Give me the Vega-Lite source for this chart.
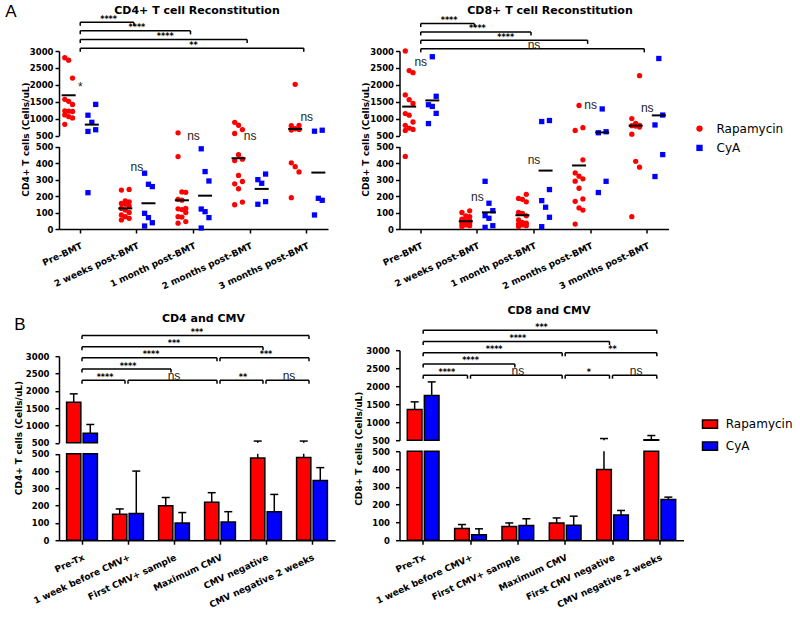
{
"$schema": "https://vega.github.io/schema/vega-lite/v6.json",
"background": "white",
"padding": {"left": 5, "top": 3, "right": 2, "bottom": 2},
"datasets": {
"aLp": [
{"t":"Pre-BMT","g":"Rapamycin","v":2800},{"t":"Pre-BMT","g":"Rapamycin","v":2730},{"t":"Pre-BMT","g":"Rapamycin","v":2200},{"t":"Pre-BMT","g":"Rapamycin","v":1570},{"t":"Pre-BMT","g":"Rapamycin","v":1510},{"t":"Pre-BMT","g":"Rapamycin","v":1420},{"t":"Pre-BMT","g":"Rapamycin","v":1230},{"t":"Pre-BMT","g":"Rapamycin","v":1220},{"t":"Pre-BMT","g":"Rapamycin","v":1210},{"t":"Pre-BMT","g":"Rapamycin","v":1110},{"t":"Pre-BMT","g":"Rapamycin","v":1060},{"t":"Pre-BMT","g":"Rapamycin","v":1020},{"t":"Pre-BMT","g":"Rapamycin","v":830},
{"t":"Pre-BMT","g":"CyA","v":1420},{"t":"Pre-BMT","g":"CyA","v":1100},{"t":"Pre-BMT","g":"CyA","v":890},{"t":"Pre-BMT","g":"CyA","v":670},{"t":"Pre-BMT","g":"CyA","v":620},{"t":"Pre-BMT","g":"CyA","v":220},
{"t":"2 weeks post-BMT","g":"Rapamycin","v":240},{"t":"2 weeks post-BMT","g":"Rapamycin","v":236},{"t":"2 weeks post-BMT","g":"Rapamycin","v":170},{"t":"2 weeks post-BMT","g":"Rapamycin","v":165},{"t":"2 weeks post-BMT","g":"Rapamycin","v":155},{"t":"2 weeks post-BMT","g":"Rapamycin","v":150},{"t":"2 weeks post-BMT","g":"Rapamycin","v":140},{"t":"2 weeks post-BMT","g":"Rapamycin","v":125},{"t":"2 weeks post-BMT","g":"Rapamycin","v":115},{"t":"2 weeks post-BMT","g":"Rapamycin","v":100},{"t":"2 weeks post-BMT","g":"Rapamycin","v":85},{"t":"2 weeks post-BMT","g":"Rapamycin","v":75},{"t":"2 weeks post-BMT","g":"Rapamycin","v":65},{"t":"2 weeks post-BMT","g":"Rapamycin","v":55},
{"t":"2 weeks post-BMT","g":"CyA","v":338},{"t":"2 weeks post-BMT","g":"CyA","v":271},{"t":"2 weeks post-BMT","g":"CyA","v":257},{"t":"2 weeks post-BMT","g":"CyA","v":95},{"t":"2 weeks post-BMT","g":"CyA","v":69},{"t":"2 weeks post-BMT","g":"CyA","v":38},{"t":"2 weeks post-BMT","g":"CyA","v":18},
{"t":"1 month post-BMT","g":"Rapamycin","v":578},{"t":"1 month post-BMT","g":"Rapamycin","v":439},{"t":"1 month post-BMT","g":"Rapamycin","v":225},{"t":"1 month post-BMT","g":"Rapamycin","v":222},{"t":"1 month post-BMT","g":"Rapamycin","v":180},{"t":"1 month post-BMT","g":"Rapamycin","v":175},{"t":"1 month post-BMT","g":"Rapamycin","v":125},{"t":"1 month post-BMT","g":"Rapamycin","v":122},{"t":"1 month post-BMT","g":"Rapamycin","v":118},{"t":"1 month post-BMT","g":"Rapamycin","v":100},{"t":"1 month post-BMT","g":"Rapamycin","v":75},{"t":"1 month post-BMT","g":"Rapamycin","v":72},{"t":"1 month post-BMT","g":"Rapamycin","v":45},{"t":"1 month post-BMT","g":"Rapamycin","v":35},
{"t":"1 month post-BMT","g":"CyA","v":486},{"t":"1 month post-BMT","g":"CyA","v":348},{"t":"1 month post-BMT","g":"CyA","v":291},{"t":"1 month post-BMT","g":"CyA","v":121},{"t":"1 month post-BMT","g":"CyA","v":105},{"t":"1 month post-BMT","g":"CyA","v":69},{"t":"1 month post-BMT","g":"CyA","v":6},
{"t":"2 months post-BMT","g":"Rapamycin","v":891},{"t":"2 months post-BMT","g":"Rapamycin","v":803},{"t":"2 months post-BMT","g":"Rapamycin","v":676},{"t":"2 months post-BMT","g":"Rapamycin","v":559},{"t":"2 months post-BMT","g":"Rapamycin","v":450},{"t":"2 months post-BMT","g":"Rapamycin","v":423},{"t":"2 months post-BMT","g":"Rapamycin","v":415},{"t":"2 months post-BMT","g":"Rapamycin","v":325},{"t":"2 months post-BMT","g":"Rapamycin","v":288},{"t":"2 months post-BMT","g":"Rapamycin","v":274},{"t":"2 months post-BMT","g":"Rapamycin","v":244},{"t":"2 months post-BMT","g":"Rapamycin","v":163},{"t":"2 months post-BMT","g":"Rapamycin","v":147},
{"t":"2 months post-BMT","g":"CyA","v":333},{"t":"2 months post-BMT","g":"CyA","v":299},{"t":"2 months post-BMT","g":"CyA","v":277},{"t":"2 months post-BMT","g":"CyA","v":166},{"t":"2 months post-BMT","g":"CyA","v":150},
{"t":"3 months post-BMT","g":"Rapamycin","v":2014},{"t":"3 months post-BMT","g":"Rapamycin","v":800},{"t":"3 months post-BMT","g":"Rapamycin","v":790},{"t":"3 months post-BMT","g":"Rapamycin","v":700},{"t":"3 months post-BMT","g":"Rapamycin","v":680},{"t":"3 months post-BMT","g":"Rapamycin","v":660},{"t":"3 months post-BMT","g":"Rapamycin","v":401},{"t":"3 months post-BMT","g":"Rapamycin","v":378},{"t":"3 months post-BMT","g":"Rapamycin","v":346},{"t":"3 months post-BMT","g":"Rapamycin","v":190},
{"t":"3 months post-BMT","g":"CyA","v":656},{"t":"3 months post-BMT","g":"CyA","v":627},{"t":"3 months post-BMT","g":"CyA","v":186},{"t":"3 months post-BMT","g":"CyA","v":174},{"t":"3 months post-BMT","g":"CyA","v":85}
],
"aLm": [
{"t":"Pre-BMT","g":"Rapamycin","v":1690},{"t":"Pre-BMT","g":"CyA","v":822},
{"t":"2 weeks post-BMT","g":"Rapamycin","v":125},{"t":"2 weeks post-BMT","g":"CyA","v":156},
{"t":"1 month post-BMT","g":"Rapamycin","v":174},{"t":"1 month post-BMT","g":"CyA","v":202},
{"t":"2 months post-BMT","g":"Rapamycin","v":429},{"t":"2 months post-BMT","g":"CyA","v":243},
{"t":"3 months post-BMT","g":"Rapamycin","v":695},{"t":"3 months post-BMT","g":"CyA","v":342}
],
"aLl": [
{"t":"Pre-BMT","v":1940,"lab":"*"},{"t":"2 weeks post-BMT","v":373,"lab":"ns"},{"t":"1 month post-BMT","v":500,"lab":"ns"},{"t":"2 months post-BMT","v":500,"lab":"ns"},{"t":"3 months post-BMT","v":1060,"lab":"ns"}
],
"aLb": [
{"a":0,"b":1,"L":1,"lab":"****"},{"a":0,"b":2,"L":2,"lab":"****"},{"a":0,"b":3,"L":3,"lab":"****"},{"a":0,"b":4,"L":4,"lab":"**"}
],
"aRp": [
{"t":"Pre-BMT","g":"Rapamycin","v":3000},{"t":"Pre-BMT","g":"Rapamycin","v":2420},{"t":"Pre-BMT","g":"Rapamycin","v":2360},{"t":"Pre-BMT","g":"Rapamycin","v":1700},{"t":"Pre-BMT","g":"Rapamycin","v":1560},{"t":"Pre-BMT","g":"Rapamycin","v":1450},{"t":"Pre-BMT","g":"Rapamycin","v":1150},{"t":"Pre-BMT","g":"Rapamycin","v":1100},{"t":"Pre-BMT","g":"Rapamycin","v":900},{"t":"Pre-BMT","g":"Rapamycin","v":800},{"t":"Pre-BMT","g":"Rapamycin","v":720},{"t":"Pre-BMT","g":"Rapamycin","v":680},{"t":"Pre-BMT","g":"Rapamycin","v":650},{"t":"Pre-BMT","g":"Rapamycin","v":440},
{"t":"Pre-BMT","g":"CyA","v":2830},{"t":"Pre-BMT","g":"CyA","v":1660},{"t":"Pre-BMT","g":"CyA","v":1410},{"t":"Pre-BMT","g":"CyA","v":1360},{"t":"Pre-BMT","g":"CyA","v":1155},{"t":"Pre-BMT","g":"CyA","v":853},
{"t":"2 weeks post-BMT","g":"Rapamycin","v":110},{"t":"2 weeks post-BMT","g":"Rapamycin","v":100},{"t":"2 weeks post-BMT","g":"Rapamycin","v":80},{"t":"2 weeks post-BMT","g":"Rapamycin","v":75},{"t":"2 weeks post-BMT","g":"Rapamycin","v":60},{"t":"2 weeks post-BMT","g":"Rapamycin","v":55},{"t":"2 weeks post-BMT","g":"Rapamycin","v":50},{"t":"2 weeks post-BMT","g":"Rapamycin","v":45},{"t":"2 weeks post-BMT","g":"Rapamycin","v":40},{"t":"2 weeks post-BMT","g":"Rapamycin","v":35},{"t":"2 weeks post-BMT","g":"Rapamycin","v":30},{"t":"2 weeks post-BMT","g":"Rapamycin","v":25},{"t":"2 weeks post-BMT","g":"Rapamycin","v":20},{"t":"2 weeks post-BMT","g":"Rapamycin","v":15},
{"t":"2 weeks post-BMT","g":"CyA","v":289},{"t":"2 weeks post-BMT","g":"CyA","v":156},{"t":"2 weeks post-BMT","g":"CyA","v":111},{"t":"2 weeks post-BMT","g":"CyA","v":81},{"t":"2 weeks post-BMT","g":"CyA","v":65},{"t":"2 weeks post-BMT","g":"CyA","v":20},{"t":"2 weeks post-BMT","g":"CyA","v":10},
{"t":"1 month post-BMT","g":"Rapamycin","v":210},{"t":"1 month post-BMT","g":"Rapamycin","v":185},{"t":"1 month post-BMT","g":"Rapamycin","v":180},{"t":"1 month post-BMT","g":"Rapamycin","v":165},{"t":"1 month post-BMT","g":"Rapamycin","v":100},{"t":"1 month post-BMT","g":"Rapamycin","v":95},{"t":"1 month post-BMT","g":"Rapamycin","v":80},{"t":"1 month post-BMT","g":"Rapamycin","v":55},{"t":"1 month post-BMT","g":"Rapamycin","v":40},{"t":"1 month post-BMT","g":"Rapamycin","v":35},{"t":"1 month post-BMT","g":"Rapamycin","v":30},{"t":"1 month post-BMT","g":"Rapamycin","v":25},{"t":"1 month post-BMT","g":"Rapamycin","v":20},{"t":"1 month post-BMT","g":"Rapamycin","v":15},
{"t":"1 month post-BMT","g":"CyA","v":943},{"t":"1 month post-BMT","g":"CyA","v":913},{"t":"1 month post-BMT","g":"CyA","v":239},{"t":"1 month post-BMT","g":"CyA","v":172},{"t":"1 month post-BMT","g":"CyA","v":132},{"t":"1 month post-BMT","g":"CyA","v":71},{"t":"1 month post-BMT","g":"CyA","v":14},
{"t":"2 months post-BMT","g":"Rapamycin","v":1387},{"t":"2 months post-BMT","g":"Rapamycin","v":732},{"t":"2 months post-BMT","g":"Rapamycin","v":651},{"t":"2 months post-BMT","g":"Rapamycin","v":419},{"t":"2 months post-BMT","g":"Rapamycin","v":340},{"t":"2 months post-BMT","g":"Rapamycin","v":320},{"t":"2 months post-BMT","g":"Rapamycin","v":304},{"t":"2 months post-BMT","g":"Rapamycin","v":290},{"t":"2 months post-BMT","g":"Rapamycin","v":247},{"t":"2 months post-BMT","g":"Rapamycin","v":182},{"t":"2 months post-BMT","g":"Rapamycin","v":168},{"t":"2 months post-BMT","g":"Rapamycin","v":128},{"t":"2 months post-BMT","g":"Rapamycin","v":115},{"t":"2 months post-BMT","g":"Rapamycin","v":30},
{"t":"2 months post-BMT","g":"CyA","v":1286},{"t":"2 months post-BMT","g":"CyA","v":611},{"t":"2 months post-BMT","g":"CyA","v":581},{"t":"2 months post-BMT","g":"CyA","v":289},{"t":"2 months post-BMT","g":"CyA","v":221},
{"t":"3 months post-BMT","g":"Rapamycin","v":2270},{"t":"3 months post-BMT","g":"Rapamycin","v":1000},{"t":"3 months post-BMT","g":"Rapamycin","v":860},{"t":"3 months post-BMT","g":"Rapamycin","v":800},{"t":"3 months post-BMT","g":"Rapamycin","v":790},{"t":"3 months post-BMT","g":"Rapamycin","v":780},{"t":"3 months post-BMT","g":"Rapamycin","v":750},{"t":"3 months post-BMT","g":"Rapamycin","v":540},{"t":"3 months post-BMT","g":"Rapamycin","v":410},{"t":"3 months post-BMT","g":"Rapamycin","v":375},{"t":"3 months post-BMT","g":"Rapamycin","v":75},
{"t":"3 months post-BMT","g":"CyA","v":2778},{"t":"3 months post-BMT","g":"CyA","v":1105},{"t":"3 months post-BMT","g":"CyA","v":812},{"t":"3 months post-BMT","g":"CyA","v":451},{"t":"3 months post-BMT","g":"CyA","v":318}
],
"aRm": [
{"t":"Pre-BMT","g":"Rapamycin","v":1355},{"t":"Pre-BMT","g":"CyA","v":1538},
{"t":"2 weeks post-BMT","g":"Rapamycin","v":47},{"t":"2 weeks post-BMT","g":"CyA","v":101},
{"t":"1 month post-BMT","g":"Rapamycin","v":83},{"t":"1 month post-BMT","g":"CyA","v":354},
{"t":"2 months post-BMT","g":"Rapamycin","v":385},{"t":"2 months post-BMT","g":"CyA","v":591},
{"t":"3 months post-BMT","g":"Rapamycin","v":792},{"t":"3 months post-BMT","g":"CyA","v":1095}
],
"aRl": [
{"t":"Pre-BMT","v":2682,"lab":"ns"},{"t":"2 weeks post-BMT","v":193,"lab":"ns"},{"t":"1 month post-BMT","v":421,"lab":"ns"},{"t":"2 months post-BMT","v":1402,"lab":"ns"},{"t":"3 months post-BMT","v":1312,"lab":"ns"}
],
"aRb": [
{"a":0,"b":1,"L":1,"lab":"****"},{"a":0,"b":2,"L":2,"lab":"****"},{"a":0,"b":3,"L":3,"lab":"****"},{"a":0,"b":4,"L":4,"lab":"ns"}
],
"bL": [
{"t":"Pre-Tx","g":"Rapamycin","v":1673,"e":1913},{"t":"Pre-Tx","g":"CyA","v":779,"e":1029},
{"t":"1 week before CMV+","g":"Rapamycin","v":150,"e":181},{"t":"1 week before CMV+","g":"CyA","v":155,"e":400},
{"t":"First CMV+ sample","g":"Rapamycin","v":200,"e":247},{"t":"First CMV+ sample","g":"CyA","v":100,"e":160},
{"t":"Maximum CMV","g":"Rapamycin","v":220,"e":275},{"t":"Maximum CMV","g":"CyA","v":105,"e":165},
{"t":"CMV negative","g":"Rapamycin","v":475,"e":550},{"t":"CMV negative","g":"CyA","v":165,"e":265},
{"t":"CMV negative 2 weeks","g":"Rapamycin","v":478,"e":550},{"t":"CMV negative 2 weeks","g":"CyA","v":345,"e":420}
],
"bLb": [
{"a":0,"b":5,"L":1,"lab":"***"},{"a":0,"b":4,"L":2,"lab":"***"},{"a":0,"b":3,"L":3,"lab":"****"},{"a":3,"b":5,"L":3,"lab":"***"},{"a":0,"b":2,"L":4,"lab":"****"},{"a":0,"b":1,"L":5,"lab":"****"},{"a":1,"b":3,"L":5,"lab":"ns"},{"a":3,"b":4,"L":5,"lab":"**"},{"a":4,"b":5,"L":5,"lab":"ns"}
],
"bR": [
{"t":"Pre-Tx","g":"Rapamycin","v":1352,"e":1565},{"t":"Pre-Tx","g":"CyA","v":1741,"e":2120},
{"t":"1 week before CMV+","g":"Rapamycin","v":66,"e":88},{"t":"1 week before CMV+","g":"CyA","v":30,"e":64},
{"t":"First CMV+ sample","g":"Rapamycin","v":77,"e":97},{"t":"First CMV+ sample","g":"CyA","v":82,"e":120},
{"t":"Maximum CMV","g":"Rapamycin","v":97,"e":125},{"t":"Maximum CMV","g":"CyA","v":84,"e":135},
{"t":"First CMV negative","g":"Rapamycin","v":397,"e":546},{"t":"First CMV negative","g":"CyA","v":142,"e":167},
{"t":"CMV negative 2 weeks","g":"Rapamycin","v":510,"e":630},{"t":"CMV negative 2 weeks","g":"CyA","v":228,"e":242}
],
"bRb": [
{"a":0,"b":5,"L":1,"lab":"***"},{"a":0,"b":4,"L":2,"lab":"****"},{"a":0,"b":3,"L":3,"lab":"****"},{"a":3,"b":5,"L":3,"lab":"**"},{"a":0,"b":2,"L":4,"lab":"****"},{"a":0,"b":1,"L":5,"lab":"****"},{"a":1,"b":3,"L":5,"lab":"ns"},{"a":3,"b":4,"L":5,"lab":"*"},{"a":4,"b":5,"L":5,"lab":"ns"}
]
},
"columns": 2,
"bounds": "flush",
"align": "each",
"spacing": {"row": 121.2, "column": 64.5},
"resolve": {"scale": {"color": "independent", "shape": "independent"}, "legend": {"color": "independent", "shape": "independent"}},
"concat": [
{
"width": 269, "height": 178,
"title": {"text": "A", "offset": -16.5, "dx": -16},
"resolve": {"scale": {"x": "independent", "y": "independent", "xOffset": "independent"}, "axis": {"x": "independent", "y": "independent"}},
"layer": [
{
"encoding": {
"x": {"field": "t", "type": "nominal", "scale": {"type": "band", "domain": ["Pre-BMT","2 weeks post-BMT","1 month post-BMT","2 months post-BMT","3 months post-BMT"], "paddingInner": 0.25, "paddingOuter": 0}, "axis": {"orient": "bottom", "title": null, "labelAngle": -25, "labelAlign": "right", "labelBaseline": "top", "labelPadding": 8, "labelOverlap": false, "labelFontSize": 9}},
"y": {"field": "v", "type": "quantitative", "scale": {"domain": [0, 500], "range": [178, 95.5], "clamp": true, "nice": false, "zero": false}, "axis": {"orient": "left", "values": [0,100,200,300,400,500], "format": "d", "title": "CD4+ T cells (Cells/uL)", "titleY": 88, "titlePadding": 5, "labelFlush": false, "labelOverlap": false}}
},
"layer": [
{"data": {"name": "aLp"}, "transform": [{"filter": "datum.v < 500"}, {"window": [{"op": "row_number", "as": "rn"}], "groupby": ["t","g"], "sort": [{"field": "v"}]}, {"calculate": "datum.g + (datum.rn % 3)", "as": "s"}],
 "mark": {"type": "point", "filled": true, "size": 28, "opacity": 1},
 "encoding": {"xOffset": {"field": "s", "type": "nominal", "scale": {"type": "band", "domain": ["Rapamycin1","Rapamycin0","Rapamycin2","s1","s2","s3","CyA1","CyA0","CyA2"], "paddingInner": 0, "paddingOuter": 1}},
  "color": {"field": "g", "type": "nominal", "scale": {"domain": ["Rapamycin","CyA"], "range": ["#ff0000","#0000ff"]}, "legend": null},
  "shape": {"field": "g", "type": "nominal", "scale": {"domain": ["Rapamycin","CyA"], "range": ["circle","square"]}, "legend": null}}},
{"data": {"name": "aLm"}, "transform": [{"filter": "datum.v < 500"}, {"calculate": "datum.g + '0'", "as": "s"}],
 "mark": {"type": "tick", "color": "black", "opacity": 1, "size": 14, "thickness": 2},
 "encoding": {"xOffset": {"field": "s", "type": "nominal", "scale": {"type": "band", "domain": ["Rapamycin1","Rapamycin0","Rapamycin2","s1","s2","s3","CyA1","CyA0","CyA2"], "paddingInner": 0, "paddingOuter": 1}}}},
{"data": {"name": "aLl"}, "transform": [{"filter": "datum.v < 500"}],
 "mark": {"type": "text", "font": "Liberation Sans", "fontSize": 12, "fill": "#222222", "opacity": 1},
 "encoding": {"text": {"field": "lab", "type": "nominal"}}}
]
},
{
"encoding": {
"x": {"field": "t", "type": "nominal", "scale": {"type": "band", "domain": ["Pre-BMT","2 weeks post-BMT","1 month post-BMT","2 months post-BMT","3 months post-BMT"], "paddingInner": 0.25, "paddingOuter": 0}, "axis": {"orient": "top", "domain": false, "ticks": false, "labels": false, "title": "CD4+ T cell Reconstitution", "titleFontSize": 11, "titleBaseline": "middle", "titleY": -40.5, "titleX": 137.5}},
"y": {"field": "v", "type": "quantitative", "scale": {"domain": [500, 3000], "range": [84.5, 0], "clamp": true, "nice": false, "zero": false}, "axis": {"orient": "left", "values": [500,1000,1500,2000,2500,3000], "format": "d", "title": null, "labelFlush": false, "labelOverlap": false}}
},
"layer": [
{"data": {"name": "aLp"}, "transform": [{"filter": "datum.v >= 500"}, {"window": [{"op": "row_number", "as": "rn"}], "groupby": ["t","g"], "sort": [{"field": "v"}]}, {"calculate": "datum.g + (datum.rn % 3)", "as": "s"}],
 "mark": {"type": "point", "filled": true, "size": 28, "opacity": 1},
 "encoding": {"xOffset": {"field": "s", "type": "nominal", "scale": {"type": "band", "domain": ["Rapamycin1","Rapamycin0","Rapamycin2","s1","s2","s3","CyA1","CyA0","CyA2"], "paddingInner": 0, "paddingOuter": 1}},
  "color": {"field": "g", "type": "nominal", "scale": {"domain": ["Rapamycin","CyA"], "range": ["#ff0000","#0000ff"]}, "legend": null},
  "shape": {"field": "g", "type": "nominal", "scale": {"domain": ["Rapamycin","CyA"], "range": ["circle","square"]}, "legend": null}}},
{"data": {"name": "aLm"}, "transform": [{"filter": "datum.v >= 500"}, {"calculate": "datum.g + '0'", "as": "s"}],
 "mark": {"type": "tick", "color": "black", "opacity": 1, "size": 14, "thickness": 2},
 "encoding": {"xOffset": {"field": "s", "type": "nominal", "scale": {"type": "band", "domain": ["Rapamycin1","Rapamycin0","Rapamycin2","s1","s2","s3","CyA1","CyA0","CyA2"], "paddingInner": 0, "paddingOuter": 1}}}},
{"data": {"name": "aLl"}, "transform": [{"filter": "datum.v >= 500"}],
 "mark": {"type": "text", "font": "Liberation Sans", "fontSize": 12, "fill": "#222222", "opacity": 1},
 "encoding": {"text": {"field": "lab", "type": "nominal"}}}
]
},
{
"data": {"name": "aLb"},
"encoding": {
"x": {"field": "a", "type": "quantitative", "scale": {"domain": [-0.375, 4.375], "nice": false, "zero": false}, "axis": null},
"y": {"field": "L", "type": "quantitative", "scale": {"domain": [1, 4], "range": [-28.8, -2.8], "nice": false, "zero": false}, "axis": null}
},
"layer": [
{"mark": {"type": "rule", "color": "black", "strokeWidth": 1.5, "x2Offset": -3}, "encoding": {"x2": {"field": "b"}}},
{"mark": {"type": "rule", "color": "black", "strokeWidth": 1.5, "y2Offset": 3.5}, "encoding": {"y2": {"field": "L"}}},
{"mark": {"type": "rule", "color": "black", "strokeWidth": 1.5, "y2Offset": 3.5, "xOffset": -3}, "encoding": {"x": {"field": "b", "type": "quantitative", "axis": null}, "y2": {"field": "L"}}},
{"transform": [{"filter": "datum.lab != 'ns'"}, {"calculate": "(datum.a + datum.b) / 2", "as": "m"}], "mark": {"type": "text", "font": "DejaVu Sans", "fontWeight": "bold", "fontSize": 8, "baseline": "alphabetic", "dy": -0.5, "fill": "black", "opacity": 1}, "encoding": {"x": {"field": "m", "type": "quantitative", "axis": null}, "text": {"field": "lab", "type": "nominal"}}},
{"transform": [{"filter": "datum.lab == 'ns'"}, {"calculate": "(datum.a + datum.b) / 2", "as": "m"}], "mark": {"type": "text", "font": "Liberation Sans", "fontSize": 12, "baseline": "alphabetic", "fill": "#222222", "opacity": 1}, "encoding": {"x": {"field": "m", "type": "quantitative", "axis": null}, "text": {"field": "lab", "type": "nominal"}}}
]
}
]
},
{
"width": 269, "height": 178,
"resolve": {"scale": {"x": "independent", "y": "independent", "xOffset": "independent"}, "axis": {"x": "independent", "y": "independent"}},
"layer": [
{
"encoding": {
"x": {"field": "t", "type": "nominal", "scale": {"type": "band", "domain": ["Pre-BMT","2 weeks post-BMT","1 month post-BMT","2 months post-BMT","3 months post-BMT"], "paddingInner": 0.25, "paddingOuter": 0}, "axis": {"orient": "bottom", "title": null, "labelAngle": -25, "labelAlign": "right", "labelBaseline": "top", "labelPadding": 8, "labelOverlap": false, "labelFontSize": 9}},
"y": {"field": "v", "type": "quantitative", "scale": {"domain": [0, 500], "range": [178, 95.5], "clamp": true, "nice": false, "zero": false}, "axis": {"orient": "left", "values": [0,100,200,300,400,500], "format": "d", "title": "CD8+ T cells (Cells/uL)", "titleY": 88, "titlePadding": 5, "labelFlush": false, "labelOverlap": false}}
},
"layer": [
{"data": {"name": "aRp"}, "transform": [{"filter": "datum.v < 500"}, {"window": [{"op": "row_number", "as": "rn"}], "groupby": ["t","g"], "sort": [{"field": "v"}]}, {"calculate": "datum.g + (datum.rn % 3)", "as": "s"}],
 "mark": {"type": "point", "filled": true, "size": 28, "opacity": 1},
 "encoding": {"xOffset": {"field": "s", "type": "nominal", "scale": {"type": "band", "domain": ["Rapamycin1","Rapamycin0","Rapamycin2","s1","s2","s3","CyA1","CyA0","CyA2"], "paddingInner": 0, "paddingOuter": 1}},
  "color": {"field": "g", "type": "nominal", "scale": {"domain": ["Rapamycin","CyA"], "range": ["#ff0000","#0000ff"]}, "legend": {"title": null, "orient": "none", "legendX": 294, "legendY": 71.6, "symbolSize": 40, "rowPadding": 7.3, "labelOffset": 11}},
  "shape": {"field": "g", "type": "nominal", "scale": {"domain": ["Rapamycin","CyA"], "range": ["circle","square"]}, "legend": {"title": null, "orient": "none", "legendX": 294, "legendY": 71.6, "symbolSize": 40, "rowPadding": 7.3, "labelOffset": 11}}}},
{"data": {"name": "aRm"}, "transform": [{"filter": "datum.v < 500"}, {"calculate": "datum.g + '0'", "as": "s"}],
 "mark": {"type": "tick", "color": "black", "opacity": 1, "size": 14, "thickness": 2},
 "encoding": {"xOffset": {"field": "s", "type": "nominal", "scale": {"type": "band", "domain": ["Rapamycin1","Rapamycin0","Rapamycin2","s1","s2","s3","CyA1","CyA0","CyA2"], "paddingInner": 0, "paddingOuter": 1}}}},
{"data": {"name": "aRl"}, "transform": [{"filter": "datum.v < 500"}],
 "mark": {"type": "text", "font": "Liberation Sans", "fontSize": 12, "fill": "#222222", "opacity": 1},
 "encoding": {"text": {"field": "lab", "type": "nominal"}}}
]
},
{
"encoding": {
"x": {"field": "t", "type": "nominal", "scale": {"type": "band", "domain": ["Pre-BMT","2 weeks post-BMT","1 month post-BMT","2 months post-BMT","3 months post-BMT"], "paddingInner": 0.25, "paddingOuter": 0}, "axis": {"orient": "top", "domain": false, "ticks": false, "labels": false, "title": "CD8+ T cell Reconstitution", "titleFontSize": 11, "titleBaseline": "middle", "titleY": -40.5, "titleX": 150}},
"y": {"field": "v", "type": "quantitative", "scale": {"domain": [500, 3000], "range": [84.5, 0], "clamp": true, "nice": false, "zero": false}, "axis": {"orient": "left", "values": [500,1000,1500,2000,2500,3000], "format": "d", "title": null, "labelFlush": false, "labelOverlap": false}}
},
"layer": [
{"data": {"name": "aRp"}, "transform": [{"filter": "datum.v >= 500"}, {"window": [{"op": "row_number", "as": "rn"}], "groupby": ["t","g"], "sort": [{"field": "v"}]}, {"calculate": "datum.g + (datum.rn % 3)", "as": "s"}],
 "mark": {"type": "point", "filled": true, "size": 28, "opacity": 1},
 "encoding": {"xOffset": {"field": "s", "type": "nominal", "scale": {"type": "band", "domain": ["Rapamycin1","Rapamycin0","Rapamycin2","s1","s2","s3","CyA1","CyA0","CyA2"], "paddingInner": 0, "paddingOuter": 1}},
  "color": {"field": "g", "type": "nominal", "scale": {"domain": ["Rapamycin","CyA"], "range": ["#ff0000","#0000ff"]}, "legend": {"title": null, "orient": "none", "legendX": 294, "legendY": 71.6, "symbolSize": 40, "rowPadding": 7.3, "labelOffset": 11}},
  "shape": {"field": "g", "type": "nominal", "scale": {"domain": ["Rapamycin","CyA"], "range": ["circle","square"]}, "legend": {"title": null, "orient": "none", "legendX": 294, "legendY": 71.6, "symbolSize": 40, "rowPadding": 7.3, "labelOffset": 11}}}},
{"data": {"name": "aRm"}, "transform": [{"filter": "datum.v >= 500"}, {"calculate": "datum.g + '0'", "as": "s"}],
 "mark": {"type": "tick", "color": "black", "opacity": 1, "size": 14, "thickness": 2},
 "encoding": {"xOffset": {"field": "s", "type": "nominal", "scale": {"type": "band", "domain": ["Rapamycin1","Rapamycin0","Rapamycin2","s1","s2","s3","CyA1","CyA0","CyA2"], "paddingInner": 0, "paddingOuter": 1}}}},
{"data": {"name": "aRl"}, "transform": [{"filter": "datum.v >= 500"}],
 "mark": {"type": "text", "font": "Liberation Sans", "fontSize": 12, "fill": "#222222", "opacity": 1},
 "encoding": {"text": {"field": "lab", "type": "nominal"}}}
]
},
{
"data": {"name": "aRb"},
"encoding": {
"x": {"field": "a", "type": "quantitative", "scale": {"domain": [-0.375, 4.375], "nice": false, "zero": false}, "axis": null},
"y": {"field": "L", "type": "quantitative", "scale": {"domain": [1, 4], "range": [-27.5, -2.2], "nice": false, "zero": false}, "axis": null}
},
"layer": [
{"mark": {"type": "rule", "color": "black", "strokeWidth": 1.5, "x2Offset": -3}, "encoding": {"x2": {"field": "b"}}},
{"mark": {"type": "rule", "color": "black", "strokeWidth": 1.5, "y2Offset": 3.5}, "encoding": {"y2": {"field": "L"}}},
{"mark": {"type": "rule", "color": "black", "strokeWidth": 1.5, "y2Offset": 3.5, "xOffset": -3}, "encoding": {"x": {"field": "b", "type": "quantitative", "axis": null}, "y2": {"field": "L"}}},
{"transform": [{"filter": "datum.lab != 'ns'"}, {"calculate": "(datum.a + datum.b) / 2", "as": "m"}], "mark": {"type": "text", "font": "DejaVu Sans", "fontWeight": "bold", "fontSize": 8, "baseline": "alphabetic", "dy": -0.5, "fill": "black", "opacity": 1}, "encoding": {"x": {"field": "m", "type": "quantitative", "axis": null}, "text": {"field": "lab", "type": "nominal"}}},
{"transform": [{"filter": "datum.lab == 'ns'"}, {"calculate": "(datum.a + datum.b) / 2", "as": "m"}], "mark": {"type": "text", "font": "Liberation Sans", "fontSize": 12, "baseline": "alphabetic", "fill": "#222222", "opacity": 1}, "encoding": {"x": {"field": "m", "type": "quantitative", "axis": null}, "text": {"field": "lab", "type": "nominal"}}}
]
}
]
},
{
"width": 276, "height": 190,
"title": {"text": "B", "offset": -21, "dx": 0},
"resolve": {"scale": {"x": "independent", "y": "independent", "xOffset": "independent"}, "axis": {"x": "independent", "y": "independent"}},
"layer": [
{
"encoding": {
"x": {"field": "t", "type": "nominal", "scale": {"type": "band", "domain": ["Pre-Tx","1 week before CMV+","First CMV+ sample","Maximum CMV","CMV negative","CMV negative 2 weeks"], "paddingInner": 0.33, "paddingOuter": 0.165}, "axis": {"orient": "bottom", "title": null, "labelAngle": -25, "labelAlign": "right", "labelBaseline": "top", "labelPadding": 8.5, "labelOverlap": false, "labelFontSize": 9}},
"y": {"field": "v", "type": "quantitative", "scale": {"domain": [0, 500], "range": [190, 103.6], "clamp": true, "nice": false, "zero": false}, "axis": {"orient": "left", "values": [0,100,200,300,400,500], "format": "d", "title": "CD4+ T cells (Cells/uL)", "titleY": 87.3, "titlePadding": 8, "labelPadding": 6, "labelFlush": false, "labelOverlap": false}},
"xOffset": {"field": "g", "type": "nominal", "scale": {"type": "band", "domain": ["Rapamycin","CyA"], "paddingInner": 0.14, "paddingOuter": 0}}
},
"layer": [
{"data": {"name": "bL"}, "mark": {"type": "bar", "stroke": "black", "strokeWidth": 1.5},
 "encoding": {"color": {"field": "g", "type": "nominal", "scale": {"domain": ["Rapamycin","CyA"], "range": ["#ff0000","#0000ff"]}, "legend": null}}},
{"data": {"name": "bL"}, "transform": [{"filter": "datum.v < 500"}], "mark": {"type": "rule", "color": "black", "strokeWidth": 1.5},
 "encoding": {"y2": {"field": "e"}}},
{"data": {"name": "bL"}, "transform": [{"filter": "datum.e <= 500"}, {"calculate": "datum.e", "as": "v"}], "mark": {"type": "tick", "color": "black", "opacity": 1, "size": 8, "thickness": 1.5}}
]
},
{
"encoding": {
"x": {"field": "t", "type": "nominal", "scale": {"type": "band", "domain": ["Pre-Tx","1 week before CMV+","First CMV+ sample","Maximum CMV","CMV negative","CMV negative 2 weeks"], "paddingInner": 0.33, "paddingOuter": 0.165}, "axis": {"orient": "top", "domain": false, "ticks": false, "labels": false, "title": "CD4 and CMV", "titleFontSize": 11, "titleBaseline": "middle", "titleY": -31.4, "titleX": 144}},
"y": {"field": "v", "type": "quantitative", "scale": {"domain": [500, 3000], "range": [92.6, 6], "clamp": true, "nice": false, "zero": false}, "axis": {"orient": "left", "values": [500,1000,1500,2000,2500,3000], "format": "d", "title": null, "labelPadding": 6, "labelFlush": false, "labelOverlap": false}},
"xOffset": {"field": "g", "type": "nominal", "scale": {"type": "band", "domain": ["Rapamycin","CyA"], "paddingInner": 0.14, "paddingOuter": 0}}
},
"layer": [
{"data": {"name": "bL"}, "transform": [{"filter": "datum.v > 500"}], "mark": {"type": "bar", "stroke": "black", "strokeWidth": 1.5},
 "encoding": {"y2": {"datum": 500},
  "color": {"field": "g", "type": "nominal", "scale": {"domain": ["Rapamycin","CyA"], "range": ["#ff0000","#0000ff"]}, "legend": null}}},
{"data": {"name": "bL"}, "transform": [{"filter": "datum.e > 500"}], "mark": {"type": "rule", "color": "black", "strokeWidth": 1.5},
 "encoding": {"y2": {"field": "e"}}},
{"data": {"name": "bL"}, "transform": [{"filter": "datum.e > 500"}, {"calculate": "datum.e", "as": "v"}], "mark": {"type": "tick", "color": "black", "opacity": 1, "size": 8, "thickness": 1.5}}
]
},
{
"data": {"name": "bLb"},
"encoding": {
"x": {"field": "a", "type": "quantitative", "scale": {"domain": [-0.5, 5.5], "nice": false, "zero": false}, "axis": null},
"y": {"field": "L", "type": "quantitative", "scale": {"domain": [1, 5], "range": [-14.7, 30], "nice": false, "zero": false}, "axis": null}
},
"layer": [
{"mark": {"type": "rule", "color": "black", "strokeWidth": 1.5, "x2Offset": -3}, "encoding": {"x2": {"field": "b"}}},
{"mark": {"type": "rule", "color": "black", "strokeWidth": 1.5, "y2Offset": 3.5}, "encoding": {"y2": {"field": "L"}}},
{"mark": {"type": "rule", "color": "black", "strokeWidth": 1.5, "y2Offset": 3.5, "xOffset": -3}, "encoding": {"x": {"field": "b", "type": "quantitative", "axis": null}, "y2": {"field": "L"}}},
{"transform": [{"filter": "datum.lab != 'ns'"}, {"calculate": "(datum.a + datum.b) / 2", "as": "m"}], "mark": {"type": "text", "font": "DejaVu Sans", "fontWeight": "bold", "fontSize": 8, "baseline": "alphabetic", "dy": -0.5, "fill": "black", "opacity": 1}, "encoding": {"x": {"field": "m", "type": "quantitative", "axis": null}, "text": {"field": "lab", "type": "nominal"}}},
{"transform": [{"filter": "datum.lab == 'ns'"}, {"calculate": "(datum.a + datum.b) / 2", "as": "m"}], "mark": {"type": "text", "font": "Liberation Sans", "fontSize": 12, "baseline": "alphabetic", "fill": "#222222", "opacity": 1}, "encoding": {"x": {"field": "m", "type": "quantitative", "axis": null}, "text": {"field": "lab", "type": "nominal"}}}
]
}
]
},
{
"width": 284, "height": 190,
"resolve": {"scale": {"x": "independent", "y": "independent", "xOffset": "independent"}, "axis": {"x": "independent", "y": "independent"}},
"layer": [
{
"encoding": {
"x": {"field": "t", "type": "nominal", "scale": {"type": "band", "domain": ["Pre-Tx","1 week before CMV+","First CMV+ sample","Maximum CMV","First CMV negative","CMV negative 2 weeks"], "paddingInner": 0.33, "paddingOuter": 0.165}, "axis": {"orient": "bottom", "title": null, "labelAngle": -25, "labelAlign": "right", "labelBaseline": "top", "labelPadding": 8.5, "labelOverlap": false, "labelFontSize": 9}},
"y": {"field": "v", "type": "quantitative", "scale": {"domain": [0, 500], "range": [190, 101], "clamp": true, "nice": false, "zero": false}, "axis": {"orient": "left", "values": [0,100,200,300,400,500], "format": "d", "title": "CD8+ T cells (Cells/uL)", "titleY": 98, "titlePadding": 8, "labelPadding": 6, "labelFlush": false, "labelOverlap": false}},
"xOffset": {"field": "g", "type": "nominal", "scale": {"type": "band", "domain": ["Rapamycin","CyA"], "paddingInner": 0.14, "paddingOuter": 0}}
},
"layer": [
{"data": {"name": "bR"}, "mark": {"type": "bar", "stroke": "black", "strokeWidth": 1.5},
 "encoding": {"color": {"field": "g", "type": "nominal", "scale": {"domain": ["Rapamycin","CyA"], "range": ["#ff0000","#0000ff"]}, "legend": {"title": null, "orient": "none", "legendX": 302, "legendY": 65.5, "symbolType": "M-1,-0.55L1,-0.55L1,0.55L-1,0.55Z", "symbolSize": 225, "symbolStrokeColor": "black", "symbolStrokeWidth": 1.5, "rowPadding": 5.8, "labelOffset": 7.3}}}},
{"data": {"name": "bR"}, "transform": [{"filter": "datum.v < 500"}], "mark": {"type": "rule", "color": "black", "strokeWidth": 1.5},
 "encoding": {"y2": {"field": "e"}}},
{"data": {"name": "bR"}, "transform": [{"filter": "datum.e <= 500"}, {"calculate": "datum.e", "as": "v"}], "mark": {"type": "tick", "color": "black", "opacity": 1, "size": 8, "thickness": 1.5}}
]
},
{
"encoding": {
"x": {"field": "t", "type": "nominal", "scale": {"type": "band", "domain": ["Pre-Tx","1 week before CMV+","First CMV+ sample","Maximum CMV","First CMV negative","CMV negative 2 weeks"], "paddingInner": 0.33, "paddingOuter": 0.165}, "axis": {"orient": "top", "domain": false, "ticks": false, "labels": false, "title": "CD8 and CMV", "titleFontSize": 11, "titleBaseline": "middle", "titleY": -39.7, "titleX": 149}},
"y": {"field": "v", "type": "quantitative", "scale": {"domain": [500, 3000], "range": [90, 0], "clamp": true, "nice": false, "zero": false}, "axis": {"orient": "left", "values": [500,1000,1500,2000,2500,3000], "format": "d", "title": null, "labelPadding": 6, "labelFlush": false, "labelOverlap": false}},
"xOffset": {"field": "g", "type": "nominal", "scale": {"type": "band", "domain": ["Rapamycin","CyA"], "paddingInner": 0.14, "paddingOuter": 0}}
},
"layer": [
{"data": {"name": "bR"}, "transform": [{"filter": "datum.v > 500"}], "mark": {"type": "bar", "stroke": "black", "strokeWidth": 1.5},
 "encoding": {"y2": {"datum": 500},
  "color": {"field": "g", "type": "nominal", "scale": {"domain": ["Rapamycin","CyA"], "range": ["#ff0000","#0000ff"]}, "legend": {"title": null, "orient": "none", "legendX": 302, "legendY": 65.5, "symbolType": "M-1,-0.55L1,-0.55L1,0.55L-1,0.55Z", "symbolSize": 225, "symbolStrokeColor": "black", "symbolStrokeWidth": 1.5, "rowPadding": 5.8, "labelOffset": 7.3}}}},
{"data": {"name": "bR"}, "transform": [{"filter": "datum.e > 500"}], "mark": {"type": "rule", "color": "black", "strokeWidth": 1.5},
 "encoding": {"y2": {"field": "e"}}},
{"data": {"name": "bR"}, "transform": [{"filter": "datum.e > 500"}, {"calculate": "datum.e", "as": "v"}], "mark": {"type": "tick", "color": "black", "opacity": 1, "size": 8, "thickness": 1.5}}
]
},
{
"data": {"name": "bRb"},
"encoding": {
"x": {"field": "a", "type": "quantitative", "scale": {"domain": [-0.5, 5.5], "nice": false, "zero": false}, "axis": null},
"y": {"field": "L", "type": "quantitative", "scale": {"domain": [1, 5], "range": [-20, 25], "nice": false, "zero": false}, "axis": null}
},
"layer": [
{"mark": {"type": "rule", "color": "black", "strokeWidth": 1.5, "x2Offset": -3}, "encoding": {"x2": {"field": "b"}}},
{"mark": {"type": "rule", "color": "black", "strokeWidth": 1.5, "y2Offset": 3.5}, "encoding": {"y2": {"field": "L"}}},
{"mark": {"type": "rule", "color": "black", "strokeWidth": 1.5, "y2Offset": 3.5, "xOffset": -3}, "encoding": {"x": {"field": "b", "type": "quantitative", "axis": null}, "y2": {"field": "L"}}},
{"transform": [{"filter": "datum.lab != 'ns'"}, {"calculate": "(datum.a + datum.b) / 2", "as": "m"}], "mark": {"type": "text", "font": "DejaVu Sans", "fontWeight": "bold", "fontSize": 8, "baseline": "alphabetic", "dy": -0.5, "fill": "black", "opacity": 1}, "encoding": {"x": {"field": "m", "type": "quantitative", "axis": null}, "text": {"field": "lab", "type": "nominal"}}},
{"transform": [{"filter": "datum.lab == 'ns'"}, {"calculate": "(datum.a + datum.b) / 2", "as": "m"}], "mark": {"type": "text", "font": "Liberation Sans", "fontSize": 12, "baseline": "alphabetic", "fill": "#222222", "opacity": 1}, "encoding": {"x": {"field": "m", "type": "quantitative", "axis": null}, "text": {"field": "lab", "type": "nominal"}}}
]
}
]
}
],
"config": {
"view": {"stroke": null},
"axis": {"domainColor": "black", "domainWidth": 1.5, "tickColor": "black", "tickWidth": 1.5, "tickSize": 4, "labelFont": "DejaVu Sans", "labelFontWeight": "bold", "labelFontSize": 8.5, "labelColor": "black", "labelPadding": 2, "titleFont": "DejaVu Sans", "titleFontWeight": "bold", "titleFontSize": 9, "titleColor": "black", "grid": false},
"legend": {"padding": 0, "labelFont": "DejaVu Sans", "labelFontSize": 12, "labelColor": "black"},
"title": {"font": "Liberation Sans", "fontSize": 17, "fontWeight": "normal", "color": "black", "anchor": "start", "baseline": "alphabetic", "frame": "bounds"}
}
}
